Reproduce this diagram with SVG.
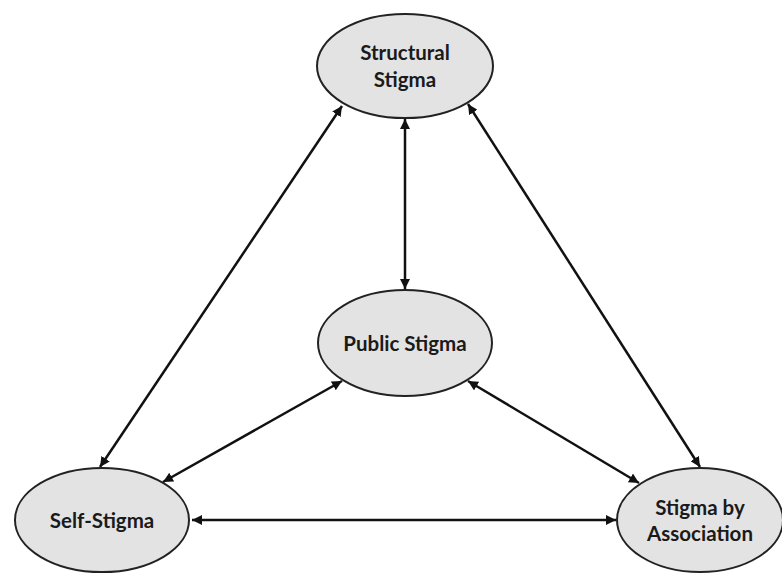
<svg xmlns="http://www.w3.org/2000/svg" width="782" height="575" viewBox="0 0 782 575">
<defs>
<marker id="ah" viewBox="0 0 10 10" refX="10" refY="5" markerWidth="4" markerHeight="4" orient="auto-start-reverse" markerUnits="strokeWidth">
<path d="M0,0 L10,5 L0,10 z" fill="#111"/>
</marker>
</defs>
<style>
.node ellipse{fill:#e3e3e3;stroke:#222;stroke-width:2}
.node text{font-family:Lato,"Open Sans","Liberation Sans",sans-serif;font-weight:bold;font-size:20.5px;fill:#1a1a1a;text-anchor:middle}
.conn line{stroke:#111;stroke-width:2.5;marker-start:url(#ah);marker-end:url(#ah)}
</style>
<rect width="782" height="575" fill="#fff"/>
<g class="conn" id="connectors">
<line x1="405" y1="119" x2="405" y2="289"/>
<line x1="342" y1="106" x2="100" y2="467"/>
<line x1="468" y1="104" x2="700" y2="467"/>
<line x1="342" y1="381" x2="163" y2="482"/>
<line x1="468" y1="381" x2="639" y2="483"/>
<line x1="192" y1="520" x2="616" y2="520"/>
</g>
<g class="node" id="structural">
<ellipse cx="405" cy="66" rx="88" ry="52"/>
<text x="405" y="60">Structural</text>
<text x="405" y="87">Stigma</text>
</g>
<g class="node" id="public">
<ellipse cx="405" cy="343" rx="87" ry="53"/>
<text x="405" y="351">Public Stigma</text>
</g>
<g class="node" id="self">
<ellipse cx="102" cy="520" rx="87" ry="52"/>
<text x="102" y="528">Self-Stigma</text>
</g>
<g class="node" id="association">
<ellipse cx="700" cy="520" rx="83" ry="52"/>
<text x="700" y="515">Stigma by</text>
<text x="700" y="541">Association</text>
</g>
</svg>
